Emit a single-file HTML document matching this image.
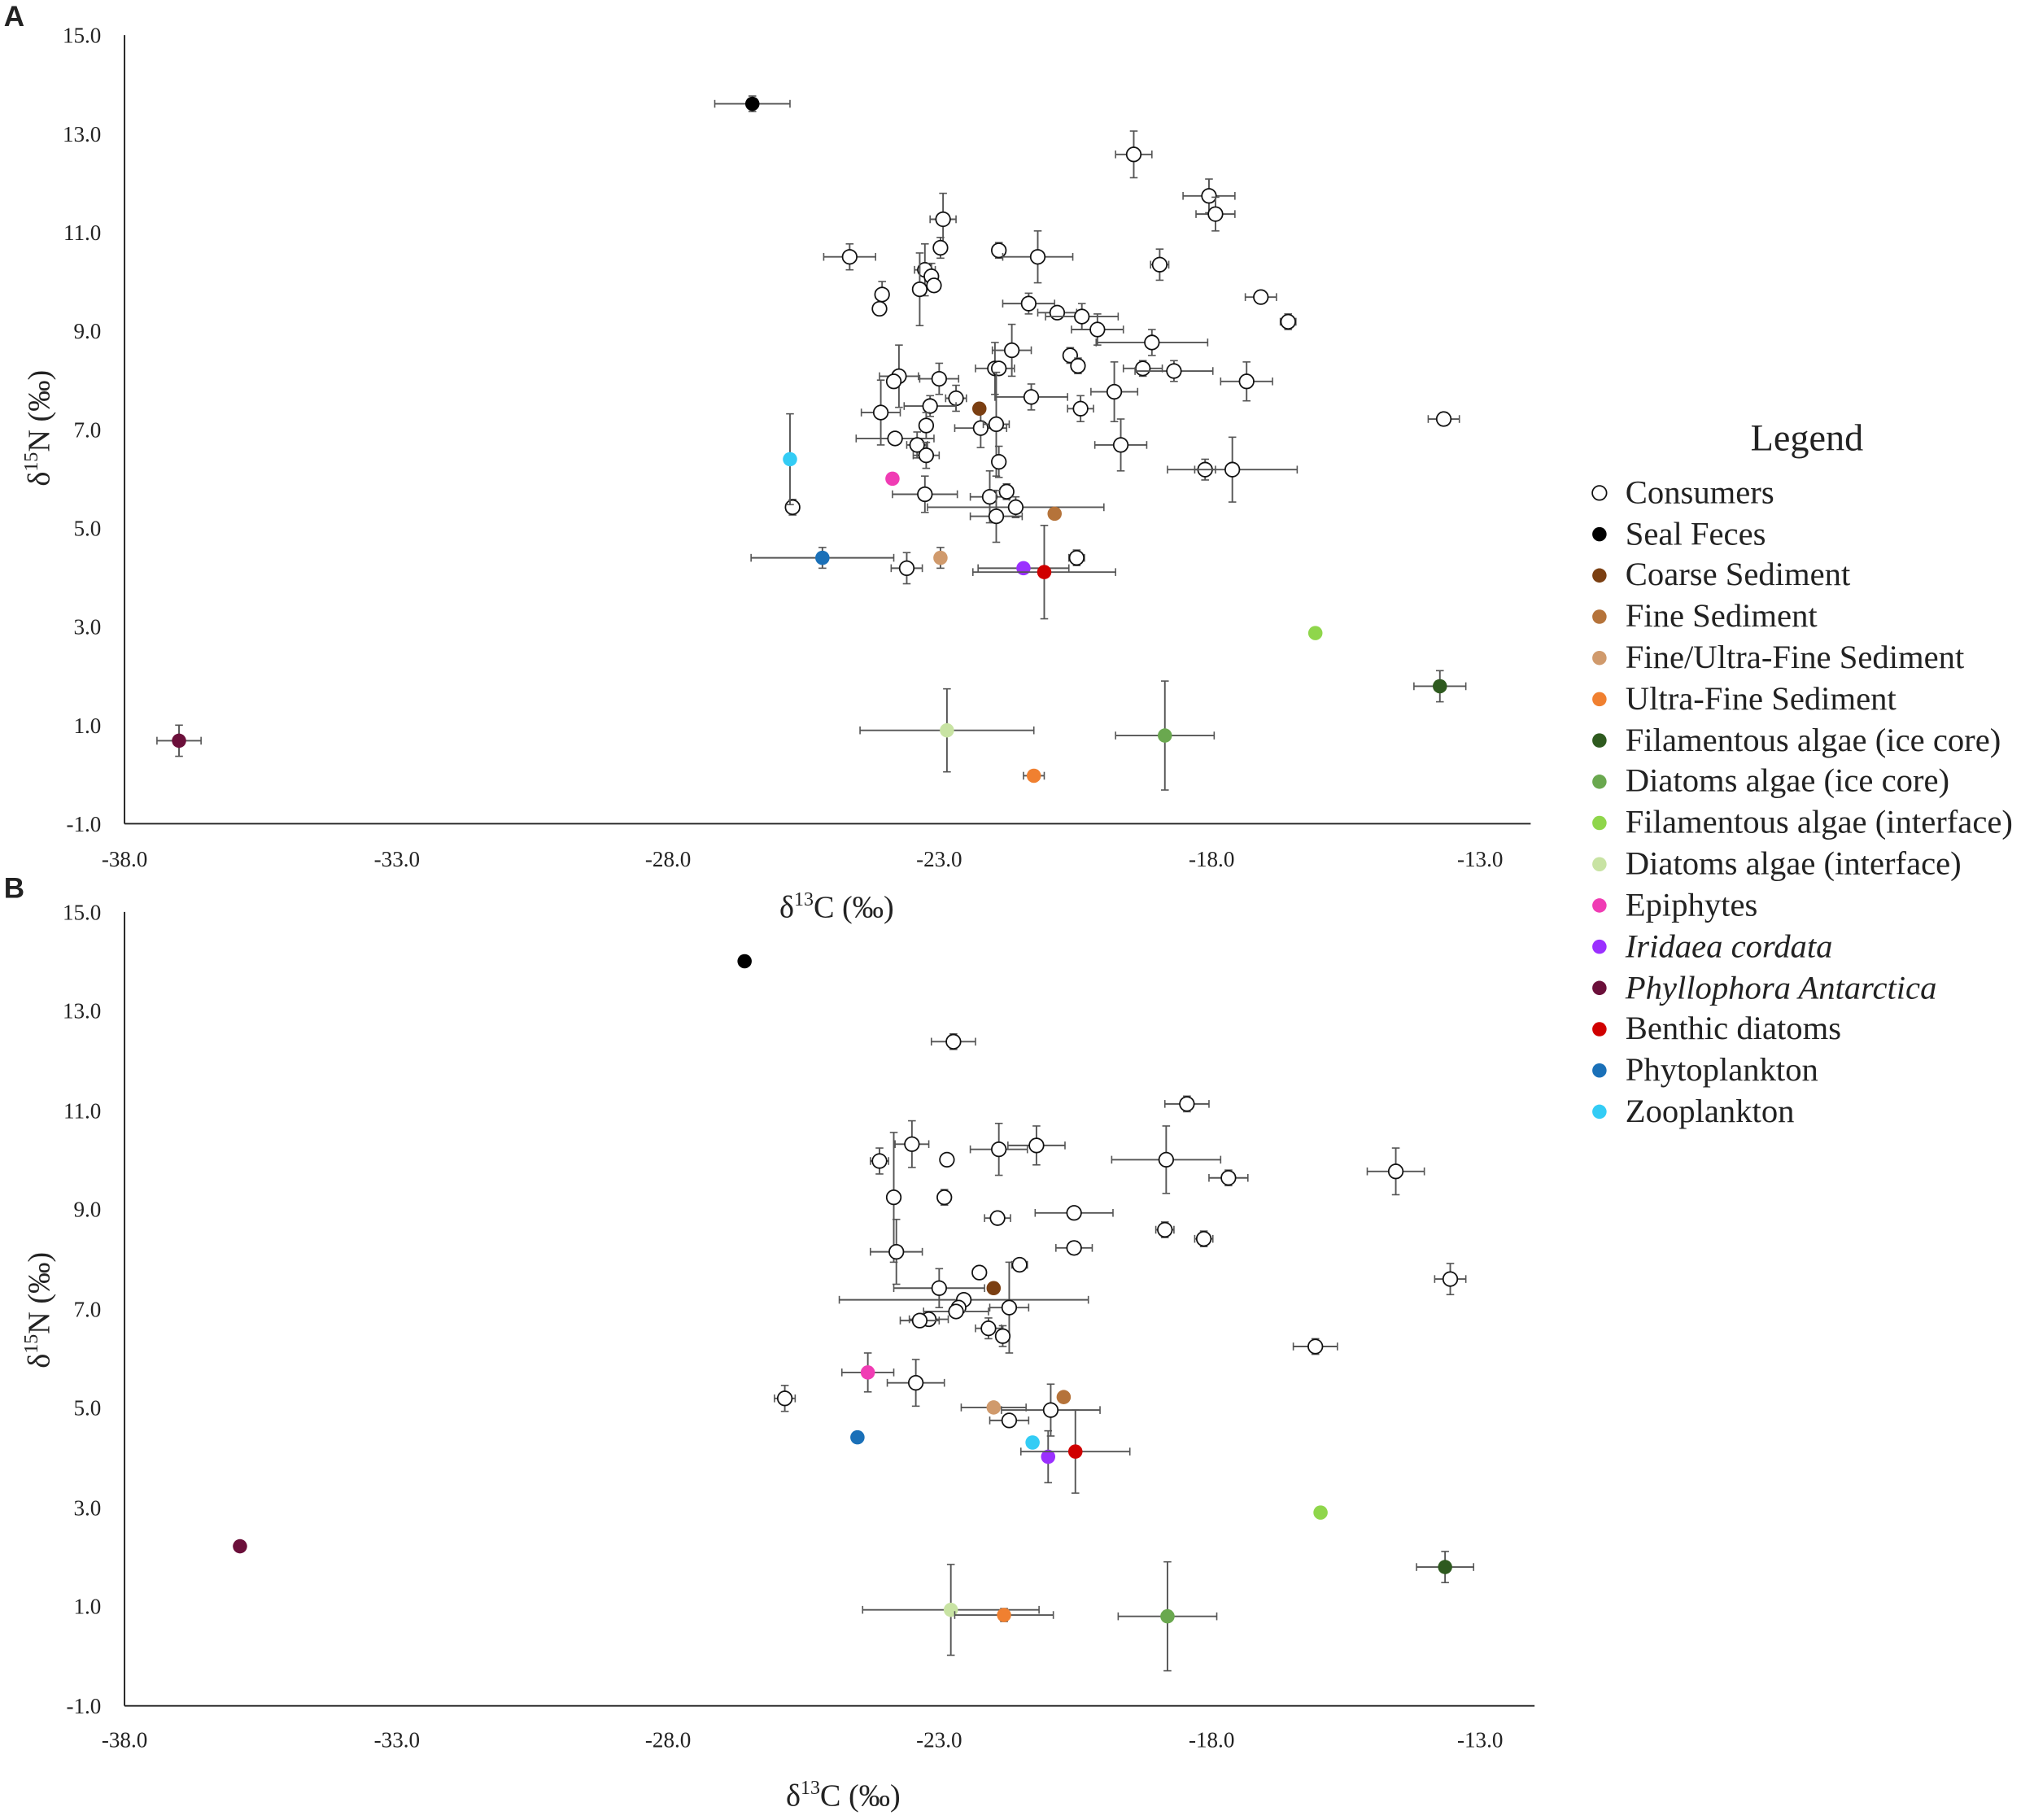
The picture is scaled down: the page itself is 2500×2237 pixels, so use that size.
<!DOCTYPE html>
<html><head><meta charset="utf-8"><style>
html,body{margin:0;padding:0;background:#fff;}
svg{display:block;}
text{font-family:"Liberation Serif",serif;fill:#222;}
</style></head><body>
<svg id="s" width="2500" height="2237" viewBox="0 0 1568 1403" xmlns="http://www.w3.org/2000/svg">
<rect width="1568" height="1403" fill="#fff"/>
<text x="3" y="20" style="font-family:'Liberation Sans',sans-serif;font-weight:bold" font-size="22">A</text>
<text x="3" y="692" style="font-family:'Liberation Sans',sans-serif;font-weight:bold" font-size="22">B</text>
<g id="axes" stroke="#222" stroke-width="1.2">
<line x1="96" y1="27" x2="96" y2="635"/><line x1="96" y1="635" x2="1180" y2="635"/>
<line x1="96" y1="703" x2="96" y2="1315"/><line x1="96" y1="1315" x2="1183" y2="1315"/>
</g>
<g font-size="17" text-anchor="end" font-family="Liberation Serif, serif">
<text x="78" y="33">15.0</text><text x="78" y="109">13.0</text><text x="78" y="185">11.0</text><text x="78" y="261">9.0</text><text x="78" y="337">7.0</text><text x="78" y="413">5.0</text><text x="78" y="489">3.0</text><text x="78" y="565">1.0</text><text x="78" y="641">-1.0</text>
<text x="78" y="709">15.0</text><text x="78" y="785">13.0</text><text x="78" y="862">11.0</text><text x="78" y="938">9.0</text><text x="78" y="1015">7.0</text><text x="78" y="1091">5.0</text><text x="78" y="1168">3.0</text><text x="78" y="1244">1.0</text><text x="78" y="1321">-1.0</text>
</g>
<g font-size="17" text-anchor="middle" font-family="Liberation Serif, serif">
<text x="96" y="668">-38.0</text><text x="306" y="668">-33.0</text><text x="515" y="668">-28.0</text><text x="724" y="668">-23.0</text><text x="934" y="668">-18.0</text><text x="1141" y="668">-13.0</text>
<text x="96" y="1347">-38.0</text><text x="306" y="1347">-33.0</text><text x="515" y="1347">-28.0</text><text x="724" y="1347">-23.0</text><text x="934" y="1347">-18.0</text><text x="1141" y="1347">-13.0</text>
</g>
<text x="645" y="707" font-size="24" text-anchor="middle">δ<tspan font-size="15" dy="-9">13</tspan><tspan dy="9">C (‰)</tspan></text>
<text x="650" y="1392" font-size="24" text-anchor="middle">δ<tspan font-size="15" dy="-9">13</tspan><tspan dy="9">C (‰)</tspan></text>
<text transform="translate(38,330) rotate(-90)" font-size="24" text-anchor="middle">δ<tspan font-size="15" dy="-9">15</tspan><tspan dy="9">N (‰)</tspan></text>
<text transform="translate(38,1010) rotate(-90)" font-size="24" text-anchor="middle">δ<tspan font-size="15" dy="-9">15</tspan><tspan dy="9">N (‰)</tspan></text>
<g font-size="25.5">
<text x="1393" y="347" font-size="29" text-anchor="middle">Legend</text>
<text x="1253" y="388">Consumers</text>
<text x="1253" y="420">Seal Feces</text>
<text x="1253" y="451">Coarse Sediment</text>
<text x="1253" y="483">Fine Sediment</text>
<text x="1253" y="515">Fine/Ultra-Fine Sediment</text>
<text x="1253" y="547">Ultra-Fine Sediment</text>
<text x="1253" y="579">Filamentous algae (ice core)</text>
<text x="1253" y="610">Diatoms algae (ice core)</text>
<text x="1253" y="642">Filamentous algae (interface)</text>
<text x="1253" y="674">Diatoms algae (interface)</text>
<text x="1253" y="706">Epiphytes</text>
<text x="1253" y="738" font-style="italic">Iridaea cordata</text>
<text x="1253" y="770" font-style="italic">Phyllophora Antarctica</text>
<text x="1253" y="801">Benthic diatoms</text>
<text x="1253" y="833">Phytoplankton</text>
<text x="1253" y="865">Zooplankton</text>
</g>
<g id="pts"></g>
</svg>
<script>
var C={w:'#fff',k:'#000',co:'#7b3f12',fi:'#b5733a',fu:'#d09a6c',uf:'#f08030',fic:'#2e5a1f',dic:'#6aa84f',fin:'#8fd64b',din:'#c8e3a3',ep:'#f03cb4',ir:'#9b30ff',ph:'#6b0f3a',bd:'#d00000',pp:'#1a70b8',zp:'#33ccf5'};
var P=[
[580,80,29,6,'k'],[874,119,14,18],[932,151,20,13],[937,165,15,13],[727,169,10,20],[725,191,0,8],[655,198,20,10],[770,193,5,6],[800,198,27,20],[894,204,7,12],[713,208,8,20],[718,213,0,10],[720,220],[709,223,0,28],[680,227,5,10],[678,238],[972,229,12,5],[993,248,6,6],[793,234,20,8],[815,241,15,4],[834,244,28,10],[846,254,20,12],[888,264,43,10],[780,270,15,20],[825,274,5,6],[831,282,5,6],[767,284,15,20],[770,284],[881,284,15,6],[905,286,30,8],[693,290,15,24],[689,294],[724,292,15,12],[961,294,20,15],[737,307,8,10],[795,306,28,10],[859,302,18,23],[717,313,20,8],[679,318,15,25],[833,315,10,10],[1113,323,12,5],[756,330,20,15],[768,327,10,40],[714,328,5,10],[690,338,30,0],[707,343,8,10],[714,351,10,10],[864,343,20,20],[770,356,0,12],[929,362,8,8],[950,362,50,25],[713,381,25,14],[763,383,15,20],[776,379,5,6],[783,391,68,8],[768,398,20,20],[611,391,5,6],[699,438,12,12],[830,430,6,6],
[609,354,0,35,'zp'],[688,369,0,0,'ep'],[755,315,0,0,'co'],[813,396,0,0,'fi'],[725,430,0,8,'fu'],[634,430,55,8,'pp'],[789,438,35,0,'ir'],[805,441,55,36,'bd'],[1014,488,0,0,'fin'],[1110,529,20,12,'fic'],[898,567,38,42,'dic'],[730,563,67,32,'din'],[797,598,8,0,'uf'],[138,571,17,12,'ph'],
[735,803,17,6],[915,851,17,6],[703,882,13,18],[730,894],[770,886,22,20],[799,883,22,15],[899,894,42,26],[678,895,7,10],[947,908,15,6],[1076,903,22,18],[689,923,0,50],[728,923,0,6],[828,935,30,0],[769,939,10,5],[898,948,7,6],[928,955,7,6],[828,962,14,5],[691,965,20,25],[786,975,6,0],[755,981,5,5],[1118,986,12,12],[724,993,35,15],[743,1002,96,0],[739,1008],[778,1008,15,35],[737,1011,25,0],[716,1017,15,0],[709,1018,15,0],[762,1024,10,8],[773,1030,5,8],[1014,1038,17,6],[706,1066,22,18],[605,1078,8,10],[810,1087,38,20],[778,1095,15,0],
[574,741,0,0,'k'],[766,993,0,0,'co'],[820,1077,0,0,'fi'],[766,1085,25,0,'fu'],[669,1058,20,15,'ep'],[661,1108,0,0,'pp'],[796,1112,0,0,'zp'],[808,1123,0,20,'ir'],[829,1119,42,32,'bd'],[1018,1166,0,0,'fin'],[1114,1208,22,12,'fic'],[733,1241,68,35,'din'],[774,1245,38,5,'uf'],[900,1246,38,42,'dic'],[185,1192,0,0,'ph']
];
var s='';
P.forEach(function(p){var x=p[0],y=p[1],ex=p[2]||0,ey=p[3]||0,c=p[4]||'w';
if(ex){s+='<line x1="'+(x-ex)+'" y1="'+y+'" x2="'+(x+ex)+'" y2="'+y+'" stroke="#555" stroke-width="1.2"/><line x1="'+(x-ex)+'" y1="'+(y-3)+'" x2="'+(x-ex)+'" y2="'+(y+3)+'" stroke="#555"/><line x1="'+(x+ex)+'" y1="'+(y-3)+'" x2="'+(x+ex)+'" y2="'+(y+3)+'" stroke="#555"/>';}
if(ey){s+='<line x1="'+x+'" y1="'+(y-ey)+'" x2="'+x+'" y2="'+(y+ey)+'" stroke="#555" stroke-width="1.2"/><line x1="'+(x-3)+'" y1="'+(y-ey)+'" x2="'+(x+3)+'" y2="'+(y-ey)+'" stroke="#555"/><line x1="'+(x-3)+'" y1="'+(y+ey)+'" x2="'+(x+3)+'" y2="'+(y+ey)+'" stroke="#555"/>';}
s+= c=='w'?'<circle cx="'+x+'" cy="'+y+'" r="5.5" fill="#fff" stroke="#111" stroke-width="1.1"/>':'<circle cx="'+x+'" cy="'+y+'" r="5.5" fill="'+C[c]+'"/>';});
var L=['w','k','co','fi','fu','uf','fic','dic','fin','din','ep','ir','ph','bd','pp','zp'];
L.forEach(function(c,i){var y=380+31.8*i;s+= c=='w'?'<circle cx="1233" cy="'+y+'" r="5.5" fill="#fff" stroke="#111" stroke-width="1.1"/>':'<circle cx="1233" cy="'+y+'" r="5.5" fill="'+C[c]+'"/>';});
document.getElementById('pts').innerHTML=s;
</script>
</body></html>
